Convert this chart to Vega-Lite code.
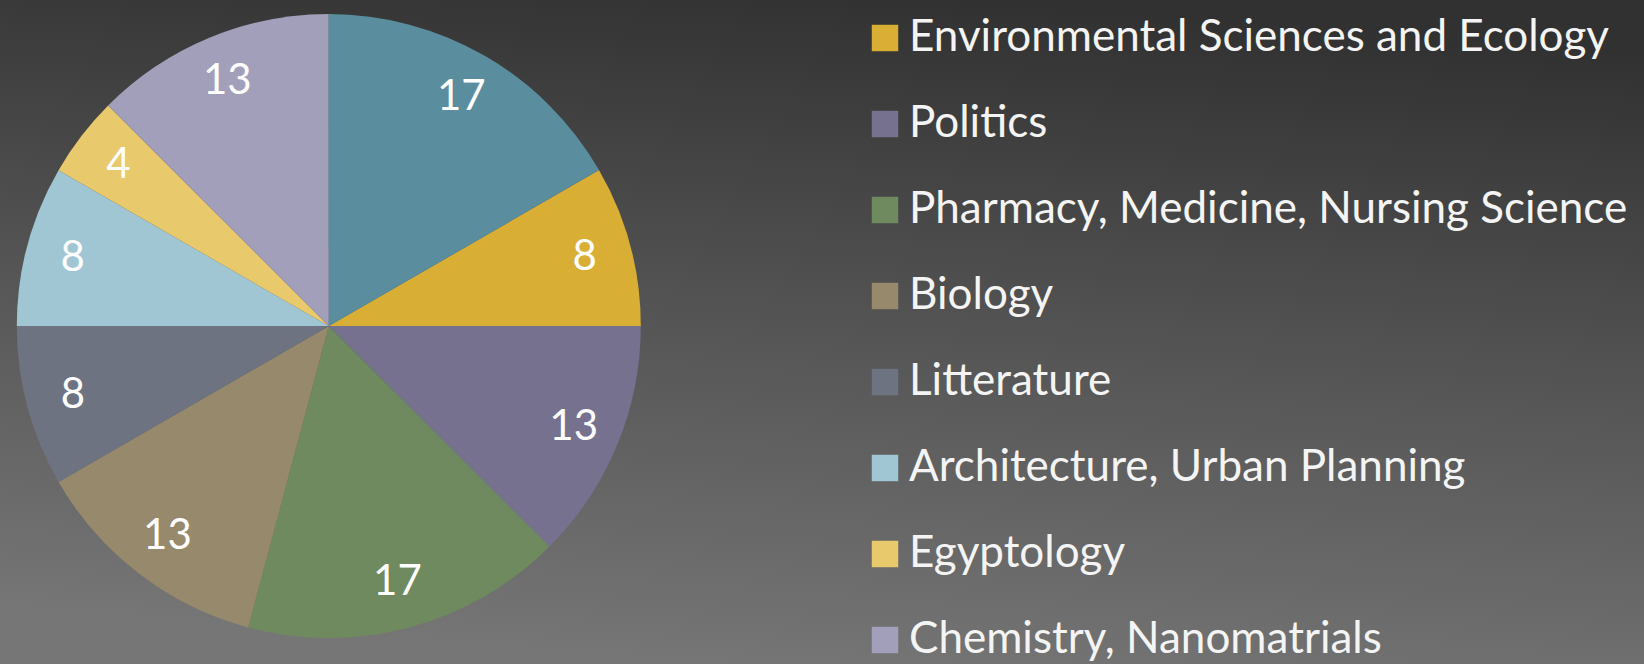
{
  "$schema": "https://vega.github.io/schema/vega-lite/v6.json",
  "width": 1644,
  "height": 664,
  "autosize": {"type": "none"},
  "padding": 0,
  "background": "#555555",
  "config": {
    "view": {
      "stroke": null,
      "fill": {
        "gradient": "linear",
        "x1": 0.6, "y1": 0, "x2": 0.4, "y2": 1,
        "stops": [
          {"offset": 0, "color": "#313131"},
          {"offset": 0.5, "color": "#555555"},
          {"offset": 1, "color": "#767676"}
        ]
      }
    },
    "font": "Lato"
  },
  "data": {
    "values": [
      {"subject": "Environmental Sciences and Ecology", "share": 8.33},
      {"subject": "Politics", "share": 12.5},
      {"subject": "Pharmacy, Medicine, Nursing Science", "share": 16.67},
      {"subject": "Biology", "share": 12.5},
      {"subject": "Litterature", "share": 8.33},
      {"subject": "Architecture, Urban Planning", "share": 8.33},
      {"subject": "Egyptology", "share": 4.17},
      {"subject": "Chemistry, Nanomatrials", "share": 12.5},
      {"subject": "Other", "share": 16.67}
    ]
  },
  "transform": [{"window": [{"op": "row_number", "as": "idx"}]}],
  "encoding": {
    "theta": {"field": "share", "type": "quantitative", "stack": true, "scale": {"range": [1.0472, 7.3304]}},
    "order": {"field": "idx", "type": "quantitative"},
    "x": {"datum": 0.2, "type": "quantitative", "scale": {"domain": [0, 1]}, "axis": null},
    "y": {"datum": 0.509, "type": "quantitative", "scale": {"domain": [0, 1]}, "axis": null},
    "color": {
      "field": "subject",
      "type": "nominal",
      "scale": {
        "domain": ["Environmental Sciences and Ecology", "Politics", "Pharmacy, Medicine, Nursing Science", "Biology", "Litterature", "Architecture, Urban Planning", "Egyptology", "Chemistry, Nanomatrials", "Other"],
        "range": ["#d8ae35", "#76718f", "#6f8a5f", "#97896b", "#6d7380", "#9fc6d2", "#e8c96c", "#a29fbb", "#5a8e9f"]
      },
      "legend": {
        "values": ["Environmental Sciences and Ecology", "Politics", "Pharmacy, Medicine, Nursing Science", "Biology", "Litterature", "Architecture, Urban Planning", "Egyptology", "Chemistry, Nanomatrials"],
        "title": null,
        "orient": "none",
        "legendX": 863,
        "legendY": 16,
        "symbolType": "square",
        "symbolSize": 700,
        "symbolStrokeWidth": 0,
        "labelFontSize": 44,
        "labelColor": "#f4f4f4",
        "labelFont": "Lato",
        "labelOffset": 2,
        "labelLimit": 1000,
        "rowPadding": 42,
        "padding": 0
      }
    }
  },
  "layer": [
    {"mark": {"type": "arc", "outerRadius": 312, "stroke": null}},
    {
      "mark": {"type": "text", "radius": 265, "fontSize": 42, "font": "Lato", "fill": "#ffffff"},
      "encoding": {"text": {"field": "share", "type": "quantitative", "format": ".0f"}, "color": {"value": "#ffffff"}}
    }
  ]
}
